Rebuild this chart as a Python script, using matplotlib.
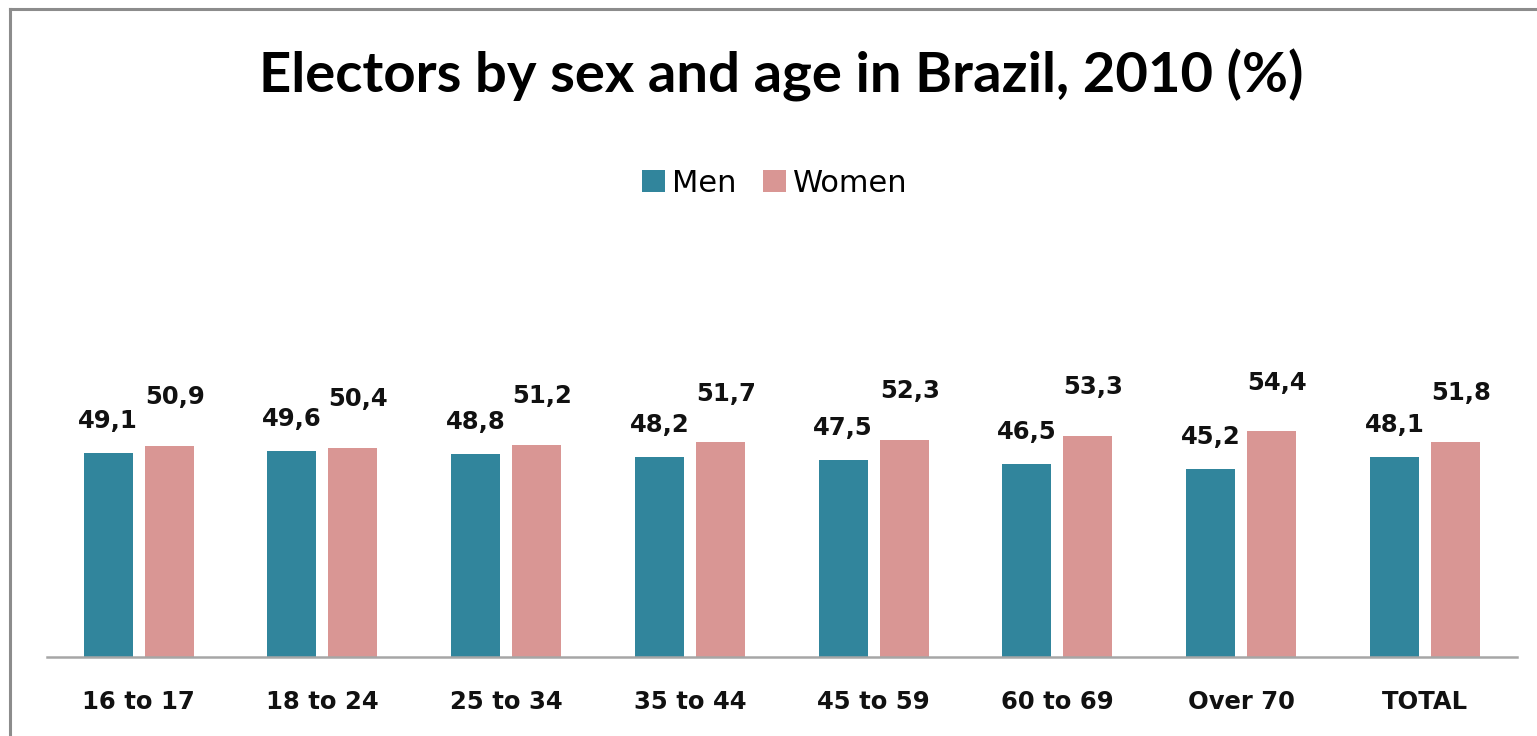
from matplotlib import pyplot as plt
from matplotlib.lines import Line2D
import numpy as np

groups = ["16 to 17", "18 to 24", "25 to 34", "35 to 44",
          "45 to 59", "60 to 69", "Over 70", "TOTAL"]
men = [49.1, 49.6, 48.8, 48.2, 47.5, 46.5, 45.2, 48.1]
women = [50.9, 50.4, 51.2, 51.7, 52.3, 53.3, 54.4, 51.8]

W, H = 1537, 736


def main():
    fig = plt.figure(figsize=(W / 100, H / 100), dpi=100)
    ax = fig.add_axes([46.7 / W, 1 - 656.5 / H, 1470 / W, 414 / H])

    x = np.arange(len(groups))
    width = 0.267
    off = 0.166
    b1 = ax.bar(x - off, men, width, color="#31859C", label="Men")
    b2 = ax.bar(x + off, women, width, color="#D99694", label="Women")

    for rect, v in zip(b1, men):
        ax.annotate(f"{v:.1f}".replace(".", ","),
                    (rect.get_x() + rect.get_width() / 2, v),
                    xytext=(0, 18), textcoords="offset points",
                    ha="center", va="baseline", fontsize=17.5,
                    fontweight="bold", color="#111111")
    for rect, v in zip(b2, women):
        ax.annotate(f"{v:.1f}".replace(".", ","),
                    (rect.get_x() + rect.get_width() / 2, v),
                    xytext=(4, 30), textcoords="offset points",
                    ha="center", va="baseline", fontsize=17.5,
                    fontweight="bold", color="#111111")

    ax.set_xlim(-0.5, 7.5)
    ax.set_ylim(0, 100)
    ax.set_xticks(x, groups, fontsize=17.5, fontweight="bold", color="#111111")
    ax.tick_params(axis="x", length=0, pad=24)
    ax.set_yticks([])
    for s in ["top", "right", "left"]:
        ax.spines[s].set_visible(False)
    ax.spines["bottom"].set_color("#a6a6a6")
    ax.spines["bottom"].set_linewidth(1.8)

    fig.text(781 / W, 1 - 75 / H, "Electors by sex and age in Brazil, 2010 (%)",
             ha="center", va="center", fontsize=40.5, fontweight="bold",
             family=["Lato", "DejaVu Sans"], color="black")

    fig.legend(loc="center", bbox_to_anchor=(775 / W, 1 - 183 / H),
               ncol=2, frameon=False, fontsize=22, handlelength=0.75,
               handleheight=0.75, handletextpad=0.25, columnspacing=0.85)

    # outer frame (left and top visible)
    fig.add_artist(Line2D([10 / W, 10 / W], [0, 1 - 9 / H],
                          transform=fig.transFigure, color="#8c8c8c", lw=2.2))
    fig.add_artist(Line2D([10 / W, 1], [1 - 9 / H, 1 - 9 / H],
                          transform=fig.transFigure, color="#8c8c8c", lw=2.2))

    fig.savefig("out.png", dpi=100)


if __name__ == "__main__":
    main()
